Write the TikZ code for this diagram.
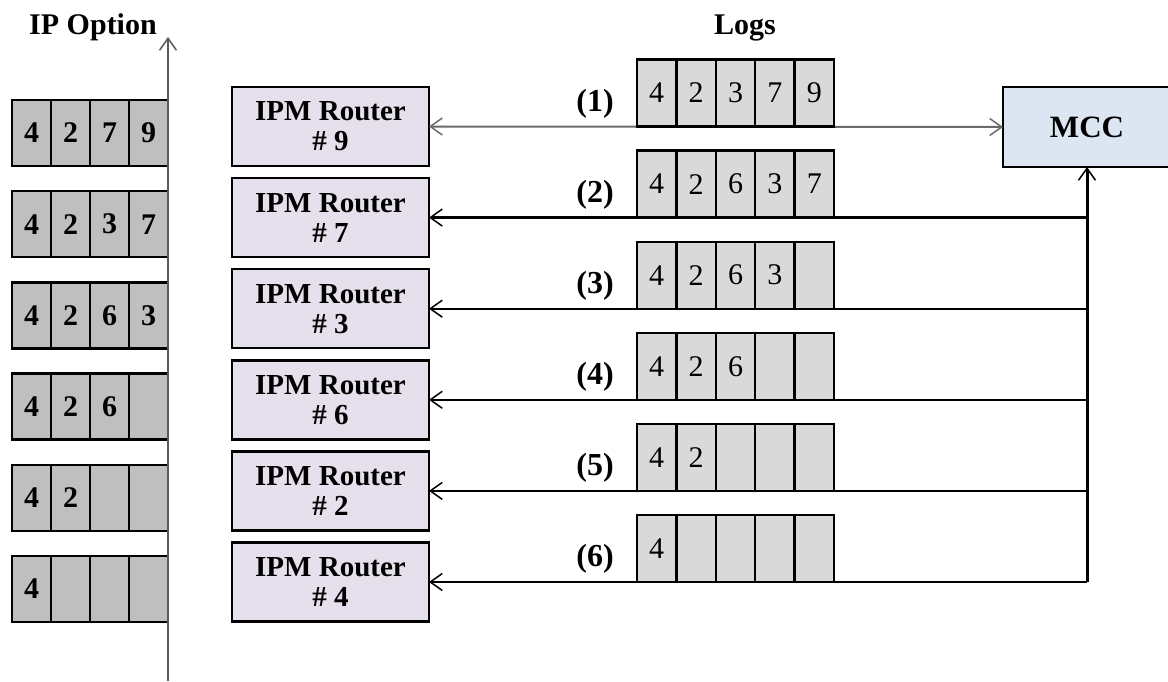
\documentclass[tikz,border=0pt]{standalone}
\usepackage{fontspec}
\setmainfont{Liberation Serif}
\usetikzlibrary{arrows.meta}
\definecolor{optfill}{HTML}{BFBFBF}
\definecolor{logfill}{HTML}{D9D9D9}
\definecolor{routerfill}{HTML}{E6E0EC}
\definecolor{mccfill}{HTML}{DCE6F2}
\definecolor{axisgray}{HTML}{5A5A5A}
\definecolor{linkgray}{HTML}{6A6A6A}
\begin{document}
\begin{tikzpicture}[x=1pt,y=-1pt,
  barb/.tip={Straight Barb[length=12pt,width=17pt,line width=1.5pt]},
  optcell/.style={draw, line width=2.4pt, fill=optfill, minimum width=39pt,
    minimum height=66pt, inner sep=0pt, outer sep=0pt, anchor=north west,
    font=\fontsize{30}{30}\selectfont\bfseries},
  logcell/.style={draw, line width=2.4pt, fill=logfill, minimum width=39.4pt,
    minimum height=67pt, inner sep=0pt, outer sep=0pt, anchor=south west,
    font=\fontsize{30}{30}\selectfont},
  router/.style={draw, line width=2.4pt, fill=routerfill, minimum width=197pt,
    minimum height=79pt, inner sep=0pt, outer sep=0pt, align=center,
    font=\fontsize{29}{30}\selectfont\bfseries},
  mccbox/.style={draw, line width=2.4pt, fill=mccfill, minimum width=168pt,
    minimum height=80pt, inner sep=0pt, outer sep=0pt,
    font=\fontsize{31}{31}\selectfont\bfseries},
  title/.style={anchor=base, inner sep=0pt, font=\fontsize{30}{30}\selectfont\bfseries},
  lbl/.style={inner sep=0pt, font=\fontsize{32}{32}\selectfont\bfseries},
  link/.style={line width=2pt, -barb},
  mainlink/.style={line width=3pt, -barb},
  axisline/.style={draw=axisgray, line width=2pt, -barb}]

\useasboundingbox (0,0) rectangle (1168,682);

% titles
\node[title] (optitle) at (93,35) {IP Option};
\node[title] (logtitle) at (745,35) {Logs};

% IP option stack
\foreach \vals [count=\r] in {{4,2,7,9},{4,2,3,7},{4,2,6,3},{4,2,6,{}},{4,2,{},{}},{4,{},{},{}}}{
  \foreach \v [count=\c] in \vals {
    \node[optcell] (opt-\r-\c) at ({12+39*(\c-1)},{100+91.2*(\r-1)}) {\v};
  }
}

% time axis
\coordinate (axisbot) at (168,681);
\coordinate (axistop) at (168,37);
\draw[axisline] (axisbot) -- (axistop);

% routers
\foreach \n [count=\r] in {9,7,3,6,2,4}{
  \node[router] (rt\r) at (330.5,{126.5+91.1*(\r-1)}) {IPM Router\\\# \n};
}

% management console
\node[mccbox] (mcc) at (1087,127) {MCC};

% links
\draw[link, draw=linkgray, barb-barb] (rt1.east) -- (mcc.west);
\coordinate (busbot) at (1087,582);
\draw[mainlink] (busbot) -- (mcc.south);
\draw[mainlink] (rt2.east -| busbot) -- (rt2.east);
\foreach \r in {3,...,6}{
  \draw[link] (rt\r.east -| busbot) -- (rt\r.east);
}

% logs
\foreach \vals [count=\r] in {{4,2,3,7,9},{4,2,6,3,7},{4,2,6,3,{}},{4,2,6,{},{}},{4,2,{},{},{}},{4,{},{},{},{}}}{
  \node[lbl] (lbl\r) at (595,{126.5+91.1*(\r-1)-23}) {(\r)};
  \foreach \v [count=\c] in \vals {
    \node[logcell] (log-\r-\c) at ({637+39.4*(\c-1)},{126.5+91.1*(\r-1)}) {\v};
  }
}
\end{tikzpicture}
\end{document}
